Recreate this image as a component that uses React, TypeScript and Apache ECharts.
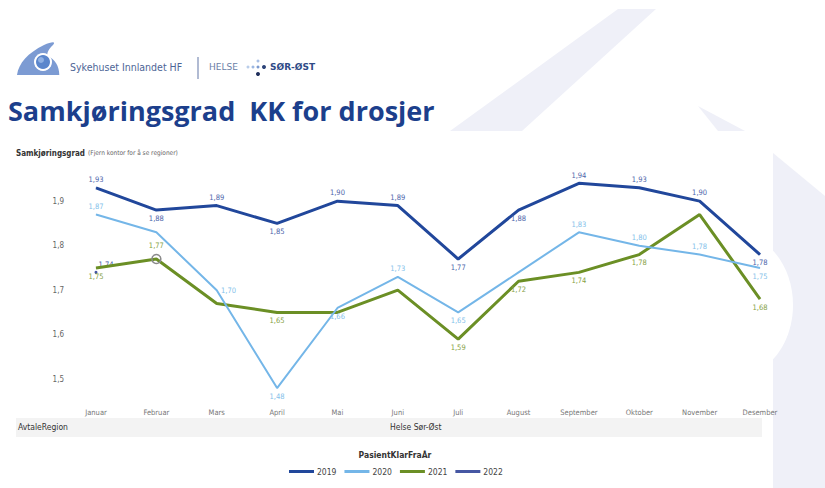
import React, { useEffect, useRef } from "react";
import * as echarts from "echarts";

const months = ["Januar", "Februar", "Mars", "April", "Mai", "Juni", "Juli", "August", "September", "Oktober", "November", "Desember"];
const yTicks = [1.5, 1.6, 1.7, 1.8, 1.9];
const years = ["2019", "2020", "2021", "2022"];
const v2019 = [1.93, 1.88, 1.89, 1.85, 1.9, 1.89, 1.77, 1.88, 1.94, 1.93, 1.9, 1.78];
const v2020 = [1.87, 1.83, 1.7, 1.48, 1.66, 1.73, 1.65, 1.74, 1.83, 1.8, 1.78, 1.75];
const v2021 = [1.75, 1.77, 1.67, 1.65, 1.65, 1.7, 1.59, 1.72, 1.74, 1.78, 1.87, 1.68];
const v2022 = [1.74, null, null, null, null, null, null, null, null, null, null, null];

// label placement per point ("" = hidden)
const pos2019 = ["top", "bottom", "top", "bottom", "top", "top", "bottom", "bottom", "top", "top", "top", "bottom"];
const pos2020 = ["top", "", "right", "bottom", "bottom", "top", "bottom", "", "top", "top", "top", "bottom"];
const pos2021 = ["bottom", "top", "", "bottom", "", "", "bottom", "bottom", "bottom", "bottom", "", "bottom"];
const pos2022 = ["upRight", "", "", "", "", "", "", "", "", "", "", ""];

const colors = ["#21479b", "#74b6e8", "#6b8f25", "#4657a3"];
const labelColors = ["#4d65aa", "#84bfea", "#869f45", "#3d52a0"];
const widths = [3, 2, 3, 3];

const NARROW = "'Liberation Sans Narrow', 'DejaVu Sans Condensed', 'Roboto Condensed', sans-serif";
const fmt = (v: number) => v.toFixed(2).replace(".", ",");

const swoosh = "M0,34 C2,22 12,12 30,4 C38,1 44,0 40,4 C35,8 33,12 34,15 C42,18 47,25 47,34 Z";

export default function App() {
  const ref = useRef<HTMLDivElement>(null);
  useEffect(() => {
    if (!ref.current) return;
    echarts.graphic.registerShape("logo", (echarts.graphic as any).extendPath(swoosh, {}));
    const chart = echarts.init(ref.current, null, { renderer: "svg" });
    const allVals = [v2019, v2020, v2021, v2022];
    const allPos = [pos2019, pos2020, pos2021, pos2022];
    const series = years.map((y, i) => ({
      name: y,
      type: "line",
      data: allVals[i].map((v, j) => {
        const p = allPos[i][j];
        const item: any = {
          value: v,
          label: p
            ? {
                show: true,
                position: p === "upRight" ? [4, -10] : p,
                distance: 4,
                formatter: () => (v == null ? "" : fmt(v as number)),
              }
            : { show: false },
        };
        if (i === 2 && j === 1) {
          item.symbol = "circle";
          item.symbolSize = 9;
          item.itemStyle = { color: "rgba(255,255,255,0)", borderColor: "#8a8a8a", borderWidth: 1.5 };
        }
        return item;
      }),
      showSymbol: true,
      showAllSymbol: true,
      symbol: "circle",
      symbolSize: i === 3 ? 3 : 0.5,
      connectNulls: false,
      lineStyle: { color: colors[i], width: widths[i] },
      itemStyle: { color: colors[i] },
      label: { color: labelColors[i], fontSize: 7.5, fontFamily: NARROW },
      labelLayout: { hideOverlap: false },
      z: 10 - i,
    }));

    chart.setOption({
      animation: false,
      backgroundColor: "#ffffff",
      grid: { left: 96, right: 65, top: 170, bottom: 91 },
      xAxis: {
        type: "category",
        data: months,
        boundaryGap: false,
        axisLine: { show: false },
        axisTick: { show: false },
        axisLabel: { color: "#777", fontSize: 7.5, fontFamily: NARROW, margin: 11, interval: 0 },
        splitLine: { show: false },
      },
      yAxis: {
        type: "value",
        min: 1.46,
        max: 1.97,
        axisLine: { show: false },
        axisTick: { show: false },
        splitLine: { show: false },
        axisLabel: {
          customValues: yTicks,
          color: "#666",
          fontSize: 8,
          fontFamily: NARROW,
          margin: 32,
          formatter: (v: number) => v.toFixed(1).replace(".", ","),
        },
      },
      legend: {
        data: years,
        top: 462,
        left: 284,
        itemWidth: 25,
        itemHeight: 3,
        itemGap: 8,
        icon: "rect",
        textStyle: { color: "#444", fontSize: 8.5, fontFamily: NARROW, padding: [0, 0, 0, -2] },
      },
      graphic: [
        { type: "polygon", silent: true, z: -10, shape: { points: [[450, 131], [618, 9], [656, 9], [522, 131]] }, style: { fill: "#eff0f8" } },
        { type: "polygon", silent: true, z: -10, shape: { points: [[698, 106], [745, 131], [718, 131]] }, style: { fill: "#eff0f8" } },
        { type: "polygon", silent: true, z: -10, shape: { points: [[773, 153], [825, 196], [825, 488], [773, 488]] }, style: { fill: "#eff0f8" } },
        { type: "ellipse", silent: true, z: -9, shape: { cx: 735, cy: 305, rx: 58, ry: 72 }, style: { fill: "#ffffff" } },
        { type: "logo", x: 17, y: 41, scaleX: 0.9, scaleY: 1, style: { fill: "#7c9bd3" } },
        { type: "circle", shape: { cx: 43, cy: 62, r: 9 }, style: { fill: "#ffffff" } },
        { type: "circle", shape: { cx: 43, cy: 62, r: 7 }, style: { fill: "#5b86cc" } },
        { type: "circle", shape: { cx: 41, cy: 60, r: 3 }, style: { fill: "#8fb0e3" } },
        { type: "text", x: 70, y: 67, style: { text: "Sykehuset Innlandet HF", fill: "#4d6596", fontSize: 10.5, fontFamily: NARROW, verticalAlign: "middle" } },
        { type: "line", shape: { x1: 198, y1: 57, x2: 198, y2: 79 }, style: { stroke: "#97a5c4", lineWidth: 1.5 } },
        { type: "text", x: 209, y: 67, style: { text: "HELSE", fill: "#6a7ea6", fontSize: 9, fontFamily: "'DejaVu Sans', sans-serif", verticalAlign: "middle" } },
        { type: "circle", shape: { cx: 248, cy: 67, r: 1.5 }, style: { fill: "#b9cdea" } },
        { type: "circle", shape: { cx: 253, cy: 67, r: 1.5 }, style: { fill: "#9db8e2" } },
        { type: "circle", shape: { cx: 258, cy: 61, r: 1.5 }, style: { fill: "#a9c0e6" } },
        { type: "circle", shape: { cx: 258, cy: 67, r: 1.5 }, style: { fill: "#7d9bd0" } },
        { type: "circle", shape: { cx: 258, cy: 74, r: 2 }, style: { fill: "#1f2f5c" } },
        { type: "circle", shape: { cx: 264, cy: 67, r: 2 }, style: { fill: "#2d4479" } },
        { type: "text", x: 270, y: 67, style: { text: "SØR-ØST", fill: "#2f4b87", fontSize: 9, fontWeight: "bold", fontFamily: "'DejaVu Sans', sans-serif", verticalAlign: "middle" } },
        { type: "text", x: 8, y: 110, style: { text: "Samkjøringsgrad  KK for drosjer", fill: "#1c3f8c", fontSize: 27, fontWeight: "bold", fontFamily: "'Open Sans', sans-serif", verticalAlign: "middle" } },
        { type: "text", x: 16, y: 153, style: { text: "Samkjøringsgrad", fill: "#333", fontSize: 8, fontWeight: "bold", fontFamily: NARROW, verticalAlign: "middle" } },
        { type: "text", x: 88, y: 153, style: { text: "(Fjern kontor for å se regioner)", fill: "#666", fontSize: 6.5, fontFamily: NARROW, verticalAlign: "middle" } },
        { type: "rect", z: -5, shape: { x: 16, y: 418, width: 746, height: 19 }, style: { fill: "#f3f3f3" } },
        { type: "text", x: 18, y: 427, style: { text: "AvtaleRegion", fill: "#333", fontSize: 8.5, fontFamily: NARROW, verticalAlign: "middle" } },
        { type: "text", x: 390, y: 427, style: { text: "Helse Sør-Øst", fill: "#333", fontSize: 8.5, fontFamily: NARROW, verticalAlign: "middle" } },
        { type: "text", x: 395, y: 455, style: { text: "PasientKlarFraÅr", fill: "#333", fontSize: 8.5, fontWeight: "bold", fontFamily: NARROW, align: "center", verticalAlign: "middle" } },
      ],
      series,
    });
    return () => chart.dispose();
  }, []);
  return <div ref={ref} style={{ width: 825, height: 488, position: "absolute", left: 0, top: 0 }} />;
}
